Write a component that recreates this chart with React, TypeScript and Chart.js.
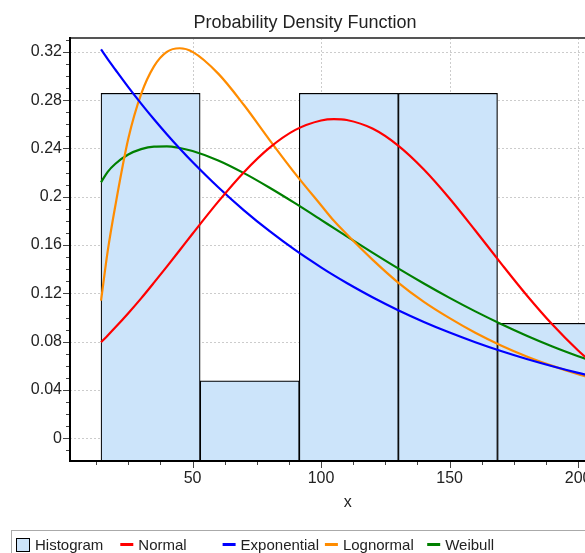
import React, { useEffect, useRef } from "react";
import { Chart, registerables } from "chart.js";

Chart.register(...registerables);

// ---------- data ----------
const chartTitle = "Probability Density Function";
const xAxisTitle = "x";

// histogram (bin centres and heights)
const histBinCenters = [33.68, 72.24, 110.8, 149.36, 187.92];
const histHeights = [0.2857, 0.0476, 0.2857, 0.2857, 0.0952];

// x positions at which the fitted curves were read
const curveX = [14.4, 17, 20, 25, 30, 35, 40, 45, 50, 60, 70, 80, 90, 100, 105, 110, 120, 130, 140, 150, 160, 170, 180, 190, 200, 207.2];

const normalY = [0.0796, 0.0852, 0.0919, 0.1036, 0.1159, 0.1289, 0.1422, 0.1557, 0.1694, 0.196, 0.2204, 0.2407, 0.2554, 0.2632, 0.2644, 0.2636, 0.2565, 0.2424, 0.2226, 0.1986, 0.1721, 0.1449, 0.1185, 0.0942, 0.0727, 0.0593];
const exponentialY = [0.322, 0.314, 0.3052, 0.2908, 0.2772, 0.2642, 0.2518, 0.24, 0.2288, 0.2079, 0.1888, 0.1715, 0.1558, 0.1416, 0.1349, 0.1286, 0.1168, 0.1061, 0.0964, 0.0876, 0.0796, 0.0723, 0.0657, 0.0597, 0.0542, 0.0506];
const lognormalY = [0.114, 0.155, 0.193, 0.248, 0.285, 0.308, 0.32, 0.323, 0.32, 0.302, 0.276, 0.247, 0.219, 0.193, 0.1801, 0.169, 0.148, 0.129, 0.113, 0.0995, 0.0874, 0.0769, 0.0678, 0.06, 0.0531, 0.0487];
const weibullY = [0.212, 0.2207, 0.2274, 0.235, 0.2395, 0.2416, 0.2418, 0.2404, 0.2379, 0.2301, 0.2196, 0.2075, 0.1945, 0.1809, 0.174, 0.1672, 0.1538, 0.1407, 0.1282, 0.1163, 0.1051, 0.0947, 0.085, 0.0761, 0.068, 0.0625];

const seriesLabels = ["Histogram", "Normal", "Exponential", "Lognormal", "Weibull"];
const seriesColors = ["#cce4fa", "#ff0000", "#0000ff", "#ff8c00", "#008000"];

// axis ranges / ticks
const X_MIN = 2.33;
const X_MAX = 218.4;
const X_MAJOR = 50;
const X_MINOR = 12.5;
const Y_MIN = -0.0188;
const Y_MAX = 0.3315;
const Y_MAJOR = 0.04;
const Y_MINOR = 0.01;

const FONT = '"Liberation Sans", Arial, Helvetica, sans-serif';

const pairs = (xs: number[], ys: number[]) => xs.map((x, i) => ({ x, y: ys[i] }));

const gridPlugin = {
  id: "dottedGrid",
  beforeDatasetsDraw(chart: any) {
    const { ctx, chartArea: a, scales } = chart;
    ctx.save();
    ctx.lineWidth = 1;
    ctx.strokeStyle = "#cccccc";
    ctx.setLineDash([2, 2]);
    ctx.beginPath();
    scales.x.ticks.forEach((t: any) => {
      const px = Math.round(scales.x.getPixelForValue(t.value)) + 0.5;
      ctx.moveTo(px, a.top);
      ctx.lineTo(px, a.bottom);
    });
    scales.y.ticks.forEach((t: any) => {
      const py = Math.round(scales.y.getPixelForValue(t.value)) + 0.5;
      ctx.moveTo(a.left, py);
      ctx.lineTo(a.right, py);
    });
    ctx.stroke();
    ctx.restore();
  },
};

const decorPlugin = {
  id: "decor",
  afterDraw(chart: any) {
    const { ctx, chartArea: a, scales } = chart;
    const xs = scales.x;
    const ys = scales.y;
    ctx.save();

    // frame
    ctx.lineWidth = 2;
    ctx.strokeStyle = "#555555";
    ctx.beginPath();
    ctx.moveTo(a.left, a.top);
    ctx.lineTo(a.right, a.top);
    ctx.lineTo(a.right, a.bottom);
    ctx.stroke();
    ctx.strokeStyle = "#000000";
    ctx.beginPath();
    ctx.moveTo(a.left, a.top - 1);
    ctx.lineTo(a.left, a.bottom);
    ctx.lineTo(a.right, a.bottom);
    ctx.stroke();

    // ticks (major + minor)
    ctx.lineWidth = 1;
    ctx.strokeStyle = "#444444";
    ctx.beginPath();
    const xStart = Math.ceil(xs.min / X_MINOR);
    for (let k = xStart; k * X_MINOR <= xs.max; k++) {
      const v = k * X_MINOR;
      const px = Math.round(xs.getPixelForValue(v)) + 0.5;
      const r = v / X_MAJOR;
      const major = Math.abs(r - Math.round(r)) < 1e-6;
      const len = major ? 6 : 3;
      ctx.moveTo(px, a.bottom + 1);
      ctx.lineTo(px, a.bottom + 1 + len);
    }
    const yStart = Math.ceil(ys.min / Y_MINOR - 1e-9);
    for (let k = yStart; k * Y_MINOR <= ys.max + 1e-9; k++) {
      const v = k * Y_MINOR;
      const py = Math.round(ys.getPixelForValue(v)) + 0.5;
      const major = k % 4 === 0;
      const len = major ? 6 : 3;
      ctx.moveTo(a.left - 1, py);
      ctx.lineTo(a.left - 1 - len, py);
    }
    ctx.stroke();

    // chart title
    ctx.fillStyle = "#222222";
    ctx.font = `18px ${FONT}`;
    ctx.textAlign = "center";
    ctx.textBaseline = "alphabetic";
    ctx.fillText(chartTitle, 305, 27.5);

    // x axis title
    ctx.font = `16px ${FONT}`;
    ctx.fillText(xAxisTitle, (a.left + a.right) / 2, 507);

    // legend
    ctx.lineWidth = 1;
    ctx.strokeStyle = "#aaaaaa";
    ctx.strokeRect(11.5, 530.5, 700, 60);
    ctx.font = `15px ${FONT}`;
    ctx.textAlign = "left";
    const datasets = chart.data.datasets;
    datasets.forEach((ds: any, i: number) => {
      const x0 = 16 + i * 102.3;
      if (ds.type === "bar") {
        ctx.fillStyle = ds.backgroundColor;
        ctx.fillRect(16.5, 538.5, 13, 13);
        ctx.strokeStyle = "#000000";
        ctx.strokeRect(16.5, 538.5, 13, 13);
        ctx.fillStyle = "#222222";
        ctx.fillText(ds.label, 35, 550);
      } else {
        ctx.strokeStyle = ds.borderColor;
        ctx.lineWidth = 3;
        ctx.beginPath();
        ctx.moveTo(x0 + 2, 544.5);
        ctx.lineTo(x0 + 15, 544.5);
        ctx.stroke();
        ctx.fillStyle = "#222222";
        ctx.fillText(ds.label, x0 + 20, 550);
      }
    });

    ctx.restore();
  },
};

export default function App() {
  const canvasRef = useRef<HTMLCanvasElement | null>(null);

  useEffect(() => {
    const canvas = canvasRef.current;
    if (!canvas) return;
    const lineDs = (label: string, color: string, ys: number[]) => ({
      type: "line" as const,
      label,
      data: pairs(curveX, ys),
      borderColor: color,
      backgroundColor: color,
      borderWidth: 2.2,
      pointRadius: 0,
      fill: false,
      cubicInterpolationMode: "monotone" as const,
      order: 0,
    });

    const chart = new Chart(canvas, {
      type: "line",
      data: {
        datasets: [
          {
            type: "bar",
            label: seriesLabels[0],
            data: pairs(histBinCenters, histHeights),
            backgroundColor: seriesColors[0],
            borderColor: "#000000",
            borderWidth: 1.2,
            barPercentage: 1,
            categoryPercentage: 1,
            grouped: false,
            base: Y_MIN,
            order: 1,
          } as any,
          lineDs(seriesLabels[1], seriesColors[1], normalY),
          lineDs(seriesLabels[2], seriesColors[2], exponentialY),
          lineDs(seriesLabels[3], seriesColors[3], lognormalY),
          lineDs(seriesLabels[4], seriesColors[4], weibullY),
        ],
      },
      options: {
        animation: false,
        responsive: false,
        devicePixelRatio: 1,
        layout: { padding: { left: 0, top: 38, right: 14.6, bottom: 62 } },
        plugins: {
          legend: { display: false },
          title: { display: false },
          tooltip: { enabled: false },
        },
        scales: {
          x: {
            type: "linear",
            min: X_MIN,
            max: X_MAX,
            offset: false,
            afterFit: (s: any) => {
              s.height = 30;
            },
            grid: { display: false, drawTicks: false, offset: false },
            border: { display: false },
            ticks: {
              stepSize: X_MAJOR,
              includeBounds: false,
              padding: 8,
              color: "#222222",
              font: { family: FONT, size: 16 },
              maxRotation: 0,
              callback: (v: any) => String(v),
            },
          },
          y: {
            type: "linear",
            min: Y_MIN,
            max: Y_MAX,
            afterFit: (s: any) => {
              s.width = 70;
            },
            grid: { display: false, drawTicks: false },
            border: { display: false },
            ticks: {
              stepSize: Y_MAJOR,
              includeBounds: false,
              padding: 8,
              color: "#222222",
              font: { family: FONT, size: 16 },
              callback: (v: any) => String(parseFloat(Number(v).toFixed(2))),
            },
          },
        },
      } as any,
      plugins: [gridPlugin, decorPlugin],
    });
    return () => chart.destroy();
  }, []);

  return (
    <div
      style={{
        position: "fixed",
        left: 0,
        top: 0,
        width: 585,
        height: 553,
        overflow: "hidden",
        background: "#ffffff",
      }}
    >
      <canvas ref={canvasRef} width={640} height={553} style={{ width: 640, height: 553, display: "block" }} />
    </div>
  );
}
